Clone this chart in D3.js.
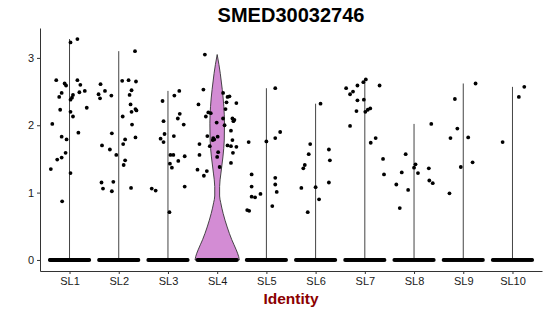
<!DOCTYPE html>
<html>
<head>
<meta charset="utf-8">
<script src="https://cdn.jsdelivr.net/npm/d3@7"></script>
<style>
  body { margin: 0; background: #fff; }
  text { font-family: 'Liberation Sans', Arial, sans-serif; }
</style>
</head>
<body>
<div class="chart"></div>
<script>
const title = 'SMED30032746'
const xLabel = 'Identity'
const groups = ['SL1', 'SL2', 'SL3', 'SL4', 'SL5', 'SL6', 'SL7', 'SL8', 'SL9', 'SL10']
const yTicks = [0, 1, 2, 3]

// non-zero cells per identity: [jitter (in category units), expression]
const SL1 = [[0.02,3.23],[0.16,3.28],[-0.27,2.67],[-0.10,2.62],[-0.07,2.59],[0.16,2.67],[0.22,2.60],[-0.16,2.48],[-0.21,2.42],[0.07,2.45],[0.05,2.41],[0.02,2.38],[0.20,2.49],[0.31,2.51],[-0.19,2.23],[0.35,2.26],[0.02,2.20],[0.07,2.13],[-0.35,2.02],[0.18,1.89],[-0.16,1.83],[-0.06,1.79],[-0.08,1.59],[-0.16,1.52],[-0.25,1.49],[-0.38,1.35],[0.02,1.29],[-0.15,0.87]]
const SL2 = [[-0.37,2.61],[-0.28,2.51],[-0.41,2.46],[-0.38,2.40],[-0.15,2.44],[0.07,2.66],[0.20,2.67],[0.33,3.10],[0.26,2.52],[0.22,2.45],[0.24,2.31],[0.26,2.20],[0.08,2.13],[0.27,2.01],[-0.14,1.88],[0.13,1.79],[0.09,1.72],[-0.34,1.70],[-0.18,1.64],[-0.05,1.56],[0.13,1.48],[0.10,1.41],[-0.35,1.15],[-0.11,1.16],[-0.32,1.06],[-0.14,1.02],[0.25,1.07],[0.35,2.65],[0.34,2.24],[0.36,2.22],[0.34,1.82]]
const SL3 = [[-0.11,2.36],[0.13,2.44],[0.23,2.51],[0.24,2.17],[0.20,2.10],[-0.09,2.06],[0.32,2.01],[-0.07,1.87],[-0.15,1.80],[-0.09,1.75],[0.12,1.84],[0.05,1.56],[0.11,1.56],[0.04,1.43],[0.08,1.37],[0.21,1.47],[0.34,1.54],[-0.33,1.06],[-0.25,1.03],[0.34,1.09],[0.03,0.71]]
const SL4 = [[-0.25,3.05],[-0.28,2.53],[0.12,2.48],[0.21,2.42],[-0.38,2.31],[0.19,2.34],[0.17,2.24],[-0.18,2.19],[-0.13,2.18],[-0.23,2.13],[0.12,2.10],[-0.01,2.04],[0.15,2.00],[-0.20,1.84],[-0.08,1.81],[-0.06,1.79],[-0.09,1.78],[0.01,1.83],[-0.36,1.72],[-0.15,1.69],[0.21,1.70],[-0.36,1.56],[0.00,1.53],[0.02,1.60],[-0.40,1.34],[-0.21,1.32],[-0.27,1.25],[0.05,1.38],[0.25,2.43],[0.39,2.33],[0.31,2.10],[0.35,2.08],[0.33,2.06],[0.28,1.92],[0.31,1.78],[0.28,1.69],[0.39,1.68],[0.32,1.59],[0.28,1.44]]
const SL5 = [[0.18,2.55],[0.28,1.90],[0.18,1.81],[0.00,1.76],[-0.36,1.75],[-0.30,1.27],[0.18,1.22],[0.18,1.12],[-0.30,1.09],[0.21,1.01],[-0.30,0.94],[-0.23,0.93],[-0.12,0.98],[0.12,0.80],[-0.39,0.74],[-0.35,0.73]]
const SL6 = [[0.10,2.32],[-0.11,1.72],[-0.14,1.57],[-0.22,1.41],[-0.25,1.36],[-0.29,1.07],[0.00,1.08],[0.07,0.90],[-0.16,0.71],[0.27,1.64],[0.29,1.48],[0.27,1.15]]
const SL7 = [[0.02,2.68],[-0.03,2.64],[-0.15,2.59],[-0.38,2.55],[0.30,2.59],[-0.24,2.50],[-0.30,2.46],[-0.15,2.37],[-0.02,2.38],[0.11,2.25],[0.06,2.23],[0.01,2.20],[-0.17,2.21],[-0.30,1.99],[0.22,1.81],[0.12,1.74],[0.37,1.50],[0.39,1.27]]
const SL8 = [[-0.17,1.57],[0.03,1.42],[0.00,1.37],[0.08,1.29],[-0.25,1.30],[-0.36,1.12],[-0.12,1.04],[-0.29,0.77],[0.35,2.02],[0.30,1.36],[0.31,1.18],[0.38,1.14]]
const SL9 = [[0.25,2.62],[-0.17,2.39],[-0.12,1.95],[-0.26,1.81],[0.10,1.82],[0.19,1.45],[-0.05,1.38],[-0.28,0.99]]
const SL10 = [[-0.20,1.75],[0.13,2.42],[0.24,2.57]]
const groupPoints = [SL1, SL2, SL3, SL4, SL5, SL6, SL7, SL8, SL9, SL10]

// cells with zero expression per identity (they form the band at 0)
const zeroCounts = [70, 65, 60, 55, 45, 45, 50, 45, 45, 40]

// SL4 violin outline: [expression, width relative to widest point]
const violinSL4 = [[0,1.0],[0.05,0.97],[0.15,0.86],[0.30,0.66],[0.49,0.45],[0.69,0.27],[0.85,0.16],[0.95,0.11],[1.09,0.11],[1.29,0.17],[1.53,0.26],[1.78,0.32],[2.03,0.33],[2.28,0.30],[2.53,0.23],[2.77,0.14],[2.9,0.08],[3.05,0]]

const width = 550
const height = 316
const margin = {top: 28, right: 8, bottom: 45, left: 40}

const svg = d3
  .select('.chart')
  .append('svg')
  .attr('width', width)
  .attr('height', height)

const x = d3
  .scalePoint()
  .domain(groups)
  .range([margin.left, width - margin.right])
  .padding(0.6)
const step = x.step()

const yMax = d3.max(groupPoints.flat(), d => d[1])
const y = d3
  .scaleLinear()
  .domain([-0.05 * yMax, yMax * 1.05])
  .range([height - margin.bottom, margin.top])

// thin violins (lines) for every identity but SL4
groups.forEach((g, i) => {
  if (g === 'SL4') return
  const top = d3.max(groupPoints[i], d => d[1])
  svg
    .append('line')
    .attr('x1', x(g))
    .attr('x2', x(g))
    .attr('y1', y(0))
    .attr('y2', y(top))
    .style('stroke', '#444')
    .style('stroke-width', 1)
})

const area = d3
  .area()
  .curve(d3.curveMonotoneY)
  .y(d => y(d[0]))
  .x0(d => x('SL4') - d[1] * 0.45 * step)
  .x1(d => x('SL4') + d[1] * 0.45 * step)

svg
  .append('path')
  .datum(violinSL4)
  .attr('d', area)
  .style('fill', '#D38CD4')
  .style('stroke', '#333')
  .style('stroke-width', 0.9)

// zero band
groups.forEach((g, i) => {
  const n = zeroCounts[i]
  svg
    .append('g')
    .selectAll('circle')
    .data(d3.range(n))
    .enter()
    .append('circle')
    .attr('cx', k => x(g) + (-0.4 + (0.8 * k) / (n - 1)) * step)
    .attr('cy', y(0))
    .attr('r', 1.9)
    .style('fill', '#000')
})

// jittered non-zero cells
groups.forEach((g, i) => {
  svg
    .append('g')
    .selectAll('circle')
    .data(groupPoints[i])
    .enter()
    .append('circle')
    .attr('cx', d => x(g) + d[0] * step)
    .attr('cy', d => y(d[1]))
    .attr('r', 1.9)
    .style('fill', '#000')
})

const yAxis = svg
  .append('g')
  .attr('transform', 'translate(' + margin.left + ',0)')
  .call(
    d3
      .axisLeft(y)
      .tickValues(yTicks)
      .tickFormat(d3.format('d'))
      .tickSize(3)
      .tickSizeOuter(0)
      .tickPadding(3)
  )
const xAxis = svg
  .append('g')
  .attr('transform', 'translate(0,' + (height - margin.bottom) + ')')
  .call(d3.axisBottom(x).tickSize(3).tickSizeOuter(0).tickPadding(3))

;[yAxis, xAxis].forEach(a => {
  a.selectAll('path, line').style('stroke', '#333')
  a.selectAll('text')
    .style('font-size', '11px')
    .style('fill', '#1a1a1a')
    .style('font-family', "'Liberation Sans', Arial, sans-serif")
})

const panelMid = (margin.left + width - margin.right) / 2

svg
  .append('text')
  .attr('x', panelMid)
  .attr('y', 22)
  .style('text-anchor', 'middle')
  .style('font-size', '20px')
  .style('font-weight', 'bold')
  .text(title)

svg
  .append('text')
  .attr('x', panelMid)
  .attr('y', 304)
  .style('text-anchor', 'middle')
  .style('font-size', '15.5px')
  .style('font-weight', 'bold')
  .style('fill', '#8B0000')
  .text(xLabel)
</script>
</body>
</html>
